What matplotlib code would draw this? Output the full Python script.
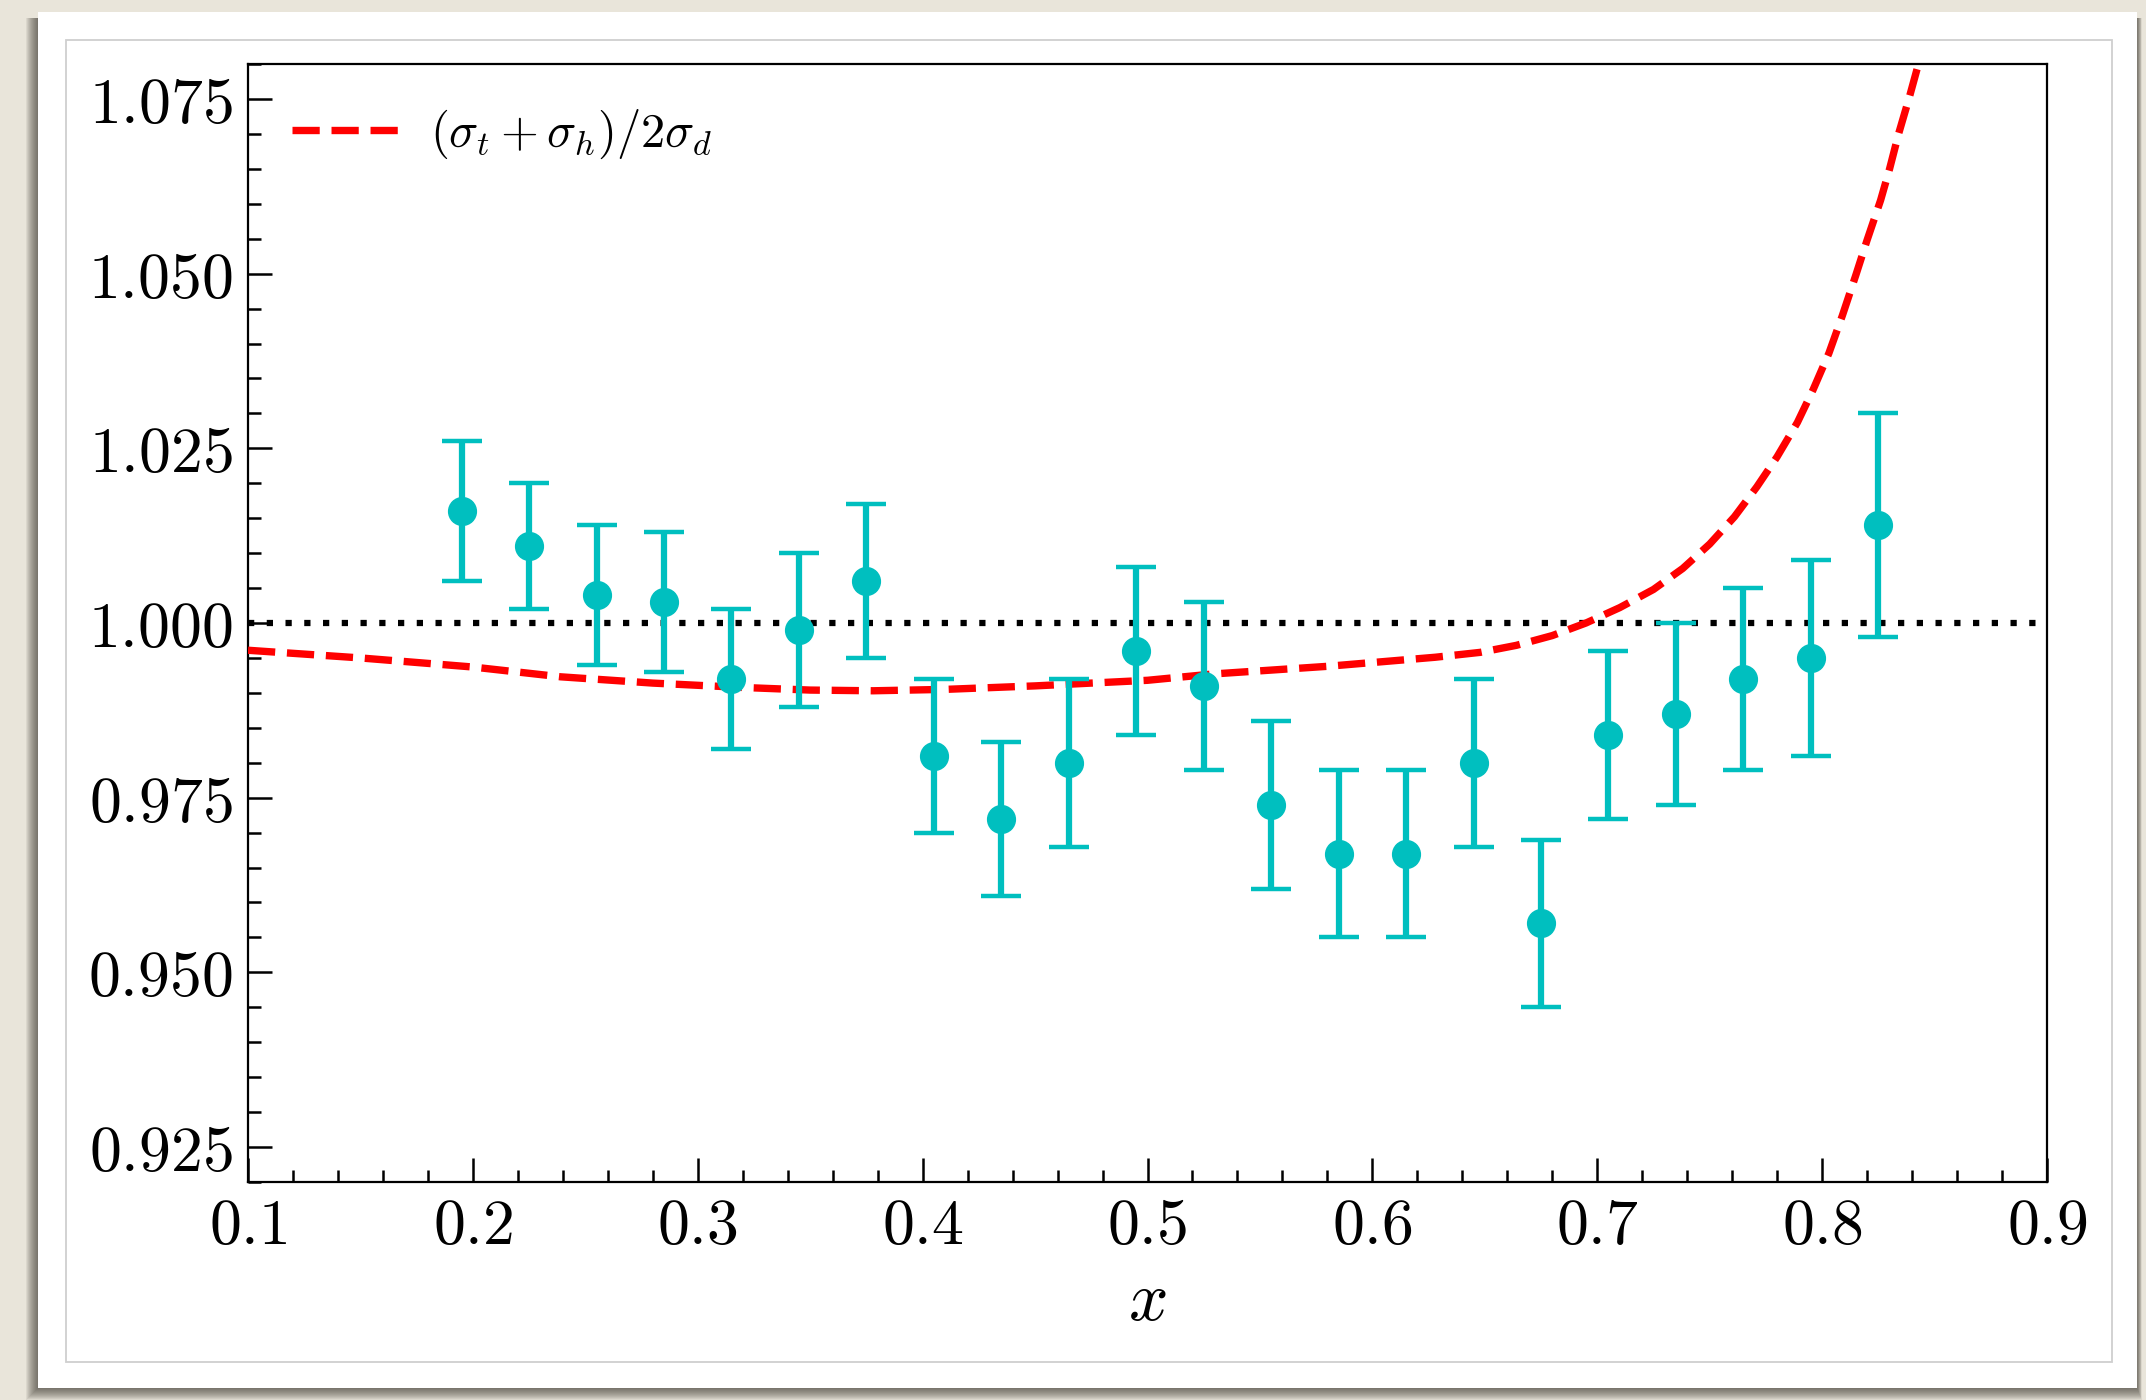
import matplotlib
matplotlib.use("Agg")
import matplotlib.pyplot as plt
from matplotlib.patches import Rectangle
from matplotlib.ticker import MultipleLocator, FuncFormatter

plt.rcParams["mathtext.fontset"] = "cm"
plt.rcParams["font.family"] = "serif"

# measured points with symmetric errors
x_data = [0.195, 0.225, 0.255, 0.285, 0.315, 0.345, 0.375, 0.405, 0.435, 0.465, 0.495,
          0.525, 0.555, 0.585, 0.615, 0.645, 0.675, 0.705, 0.735, 0.765, 0.795, 0.825]
y_data = [1.016, 1.011, 1.004, 1.003, 0.992, 0.999, 1.006, 0.981, 0.972, 0.980, 0.996,
          0.991, 0.974, 0.967, 0.967, 0.980, 0.957, 0.984, 0.987, 0.992, 0.995, 1.014]
y_err = [0.010, 0.009, 0.010, 0.010, 0.010, 0.011, 0.011, 0.011, 0.011, 0.012, 0.012,
         0.012, 0.012, 0.012, 0.012, 0.012, 0.012, 0.012, 0.013, 0.013, 0.014, 0.016]

# model ratio (sigma_t + sigma_h) / 2 sigma_d
x_model = [0.100, 0.150, 0.200, 0.239, 0.280, 0.318, 0.350, 0.378, 0.410, 0.450, 0.500,
           0.529, 0.580, 0.628, 0.648, 0.664, 0.680, 0.695, 0.710, 0.725, 0.738, 0.750,
           0.761, 0.771, 0.780, 0.789, 0.796, 0.803, 0.809, 0.815, 0.820, 0.826, 0.830,
           0.834, 0.839, 0.843, 0.847]
y_model = [0.9961, 0.9950, 0.9937, 0.9923, 0.9914, 0.9908, 0.9904, 0.9903, 0.9905, 0.9910,
           0.9918, 0.9927, 0.9938, 0.9951, 0.9958, 0.9968, 0.9982, 1.0000, 1.0022, 1.0048,
           1.0078, 1.0113, 1.0152, 1.0195, 1.0238, 1.0287, 1.0334, 1.0386, 1.0440, 1.0498,
           1.0548, 1.0605, 1.0650, 1.0700, 1.0755, 1.0802, 1.0850]

W, H = 2146, 1400
fig = plt.figure(figsize=(W / 100, H / 100), dpi=100, facecolor="#e9e5da")


def px_rect(x0, y0, x1, y1, **kw):
    # rectangle given in pixels from the top-left corner
    return Rectangle((x0 / W, 1 - y1 / H), (x1 - x0) / W, (y1 - y0) / H,
                     transform=fig.transFigure, **kw)


# soft drop shadow under the card
for s in range(1, 13):
    fig.patches.append(px_rect(38 - s, 18, 2137 + s * 0.4, 1388 + s,
                               facecolor="#3e3a33", edgecolor="none", alpha=0.08, zorder=-10))
fig.patches.append(px_rect(38, 12, 2137, 1388, facecolor="white", edgecolor="none", zorder=-9))
fig.patches.append(px_rect(66, 40, 2112, 1362, facecolor="white", edgecolor="#cfcfcf",
                           linewidth=1.3, zorder=-8))

ax = fig.add_axes([248 / W, 1 - 1182 / H, (2047 - 248) / W, (1182 - 64) / H])
ax.set_facecolor("white")

ax.axhline(1.0, color="black", linewidth=4.5, linestyle=(0, (1, 2)), zorder=2)
ax.plot(x_model, y_model, color="red", linestyle="--", linewidth=5.3,
        label=r"$(\sigma_t + \sigma_h)/2\sigma_d$", zorder=3)
ax.errorbar(x_data, y_data, yerr=y_err, fmt="o", color="c", markersize=20,
            elinewidth=4.5, capsize=14.5, capthick=3.2, zorder=4)

ax.set_xlim(0.1, 0.9)
ax.set_ylim(0.92, 1.08)
ax.xaxis.set_major_locator(MultipleLocator(0.1))
ax.xaxis.set_minor_locator(MultipleLocator(0.02))
ax.yaxis.set_major_locator(MultipleLocator(0.025))
ax.yaxis.set_minor_locator(MultipleLocator(0.005))
ax.xaxis.set_major_formatter(FuncFormatter(lambda v, p: f"${v:.1f}$"))
ax.yaxis.set_major_formatter(FuncFormatter(lambda v, p: f"${v:.3f}$"))

ax.tick_params(which="both", direction="in", top=False, right=False,
               labelsize=46, width=1.8)
ax.tick_params(which="major", length=17)
ax.tick_params(which="minor", length=9)
ax.tick_params(axis="y", pad=11)
ax.tick_params(axis="x", pad=10)
for sp in ax.spines.values():
    sp.set_linewidth(1.6)

ax.set_xlabel(r"$x$", fontsize=50, labelpad=8)

ax.legend(loc="upper left", frameon=False, fontsize=35, handlelength=2.3,
          handletextpad=0.55, borderaxespad=0.5)

fig.savefig("out.png", dpi=100, facecolor=fig.get_facecolor())
